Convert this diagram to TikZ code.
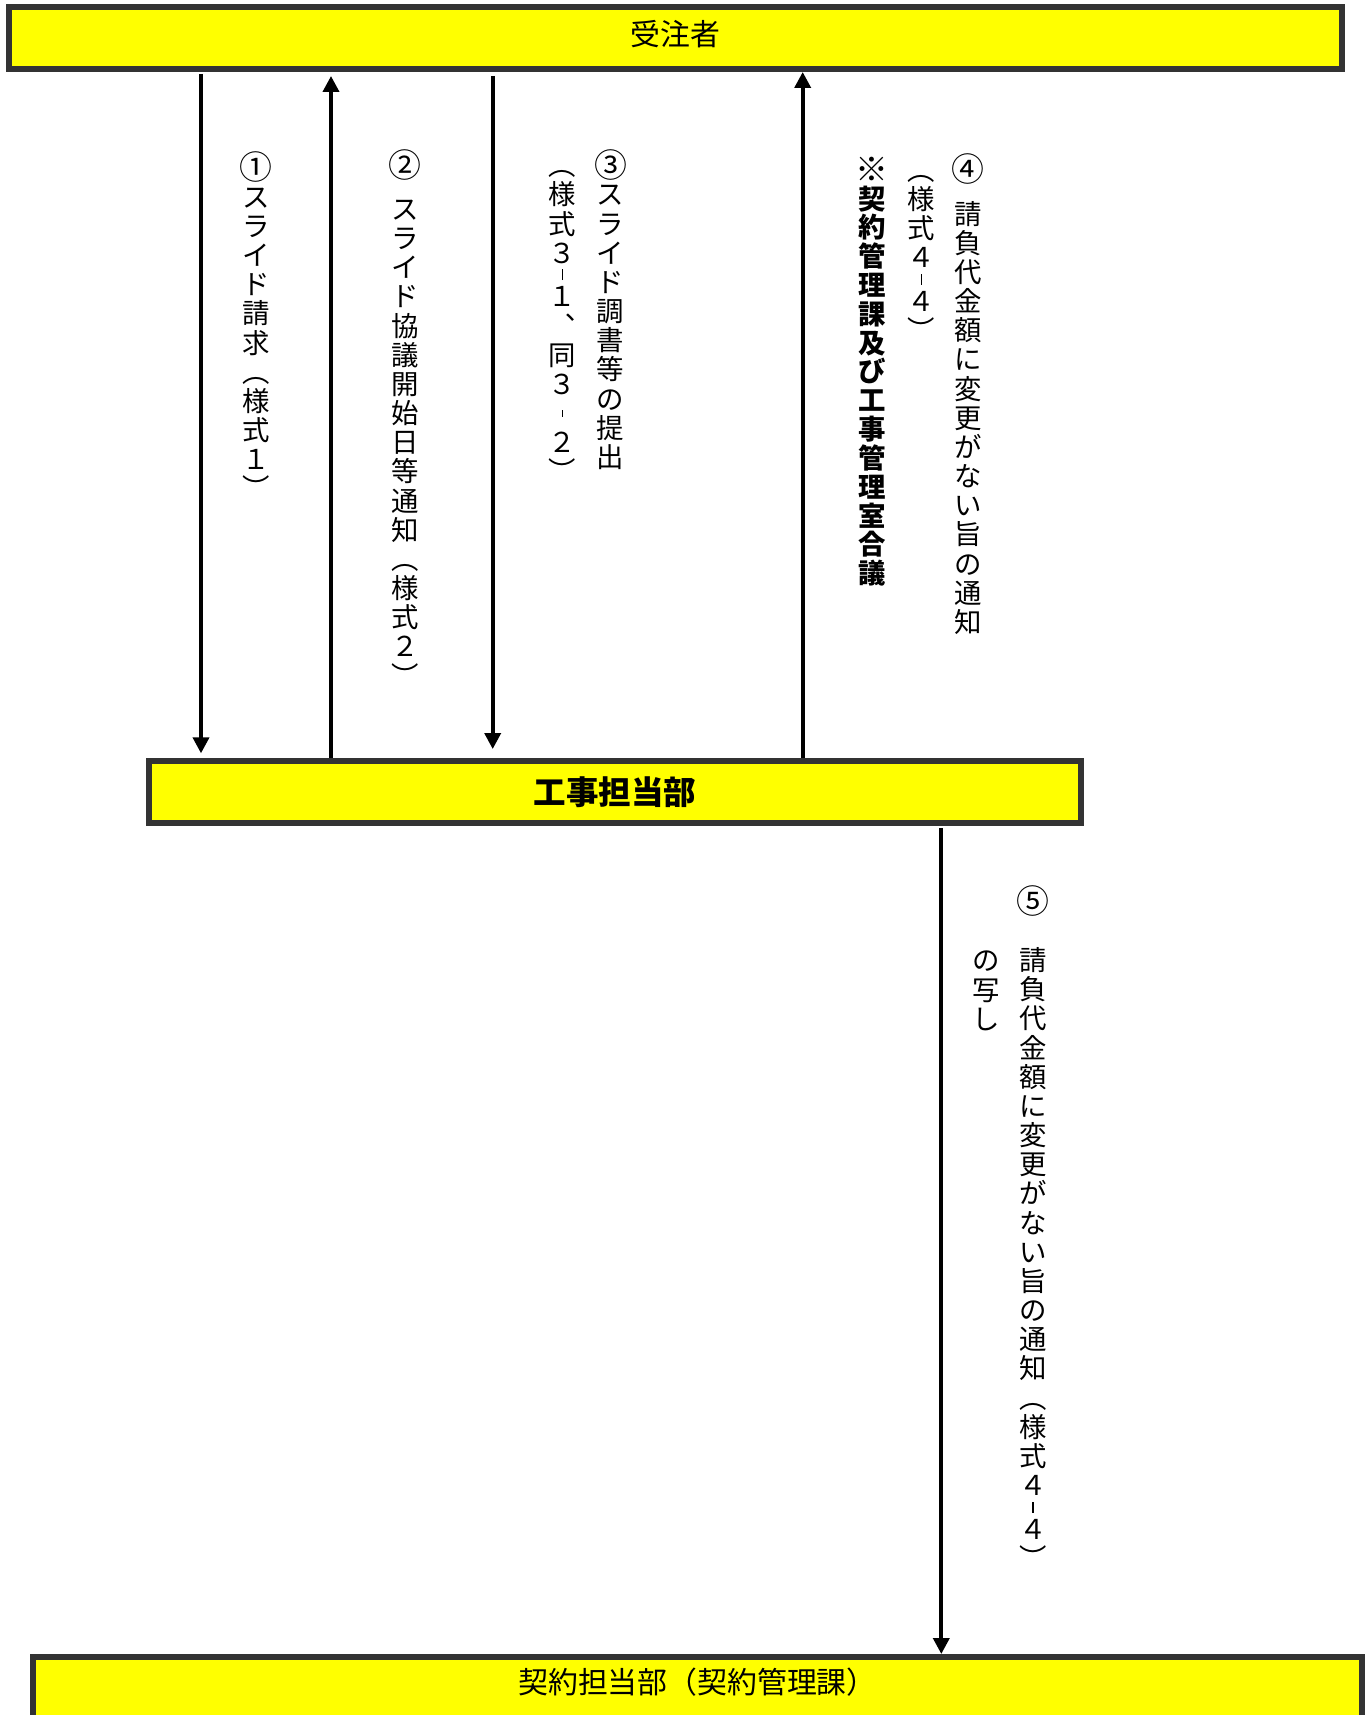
\documentclass[tikz,border=0pt]{standalone}
\usepackage{fontspec}
\setmainfont{Noto Sans CJK JP}
\usetikzlibrary{arrows.meta}
\definecolor{BoxYellow}{HTML}{FFFF00}
\definecolor{BoxEdge}{HTML}{333333}
\newcommand\tfirst{\rule{0pt}{0.88em}}
\newcommand\tdash{\rule[2.81pt]{0.8pt}{6.24pt}}
\newcommand\tdashs{\rule[3.98pt]{0.8pt}{3.9pt}}
\newcommand\tnum[1]{\smash{\raisebox{-0.8pt}{\scalebox{1.2}{#1}}}}

\begin{document}
\begin{tikzpicture}[
    x=0.02cm, y=-0.02cm,
    box/.style={rectangle, draw=BoxEdge, line width=3.4pt, fill=BoxYellow, inner sep=0pt, minimum height=1.24cm, text height=14.96pt, text depth=2.04pt, font=\fontsize{17pt}{20pt}\selectfont},
    arrow/.style={-{Triangle[length=0.32cm, width=0.32cm]}, line width=2.1pt},
    tate/.style={anchor=north, align=center, inner sep=0pt, font=\fontsize{15.6pt}{16.6pt}\selectfont}
]
\clip (0,0) rectangle (1371,1715);

% Boxes
\node[box, minimum width=26.66cm, text depth=6.6pt] (client) at (675.5,38) {受注者};
\node[box, minimum width=18.66cm, font=\fontsize{18.5pt}{20pt}\selectfont\bfseries, text height=16.3pt, text depth=2.2pt] (dept) at (615,791.7) {工事担当部};
\node[box, minimum width=26.60cm, text depth=8.8pt] (contract) at (697.5,1688) {契約担当部（契約管理課）};

% Arrow positions
\coordinate (x1) at (201,0);
\coordinate (x2) at (331,0);
\coordinate (x3) at (492.7,0);
\coordinate (x4) at (802.7,0);
\coordinate (x5) at (941.3,0);

% Arrows between client and dept
\draw[arrow, shorten <=0.04cm, shorten >=0.088cm] (client.south -| x1) -- (dept.north -| x1);
\draw[arrow, shorten >=0.08cm] (dept.north -| x2) -- (client.south -| x2);
\draw[arrow, shorten <=0.08cm, shorten >=0.174cm] (client.south -| x3) -- (dept.north -| x3);
\draw[arrow] (dept.north -| x4) -- (client.south -| x4);

% Arrow to contract section
\draw[arrow, shorten <=0.046cm] (dept.south -| x5) -- (contract.north -| x5);

% Labels
\node[tate] (l1) at (256,153.6) {\tfirst\tnum{①}\\ス\\ラ\\イ\\ド\\請\\求\\︵\\様\\式\\１\\︶};
\node[tate] (l2) at (405,151.2) {\tfirst\tnum{②}\\[8.3pt]ス\\ラ\\イ\\ド\\協\\議\\開\\始\\日\\等\\通\\知\\︵\\様\\式\\２\\︶};
\node[tate] (l3) at (610.6,151.2) {\tfirst\tnum{③}\\ス\\ラ\\イ\\ド\\調\\書\\等\\の\\提\\出};
\node[tate] (l3f) at (562.4,151.2) {\tfirst︵\\様\\式\\３\\[-4.15pt]\tdash\\[-4.15pt]１\\︑\\同\\３\\\tdashs\\２\\︶};
\node[tate, font=\fontsize{15.6pt}{16.4pt}\selectfont\bfseries] (note) at (872,155.8) {\tfirst\tnum{※}\\契\\約\\管\\理\\課\\及\\び\\工\\事\\管\\理\\室\\合\\議};
\node[tate] (l4f) at (921.3,155.8) {\tfirst︵\\様\\式\\４\\[-4.15pt]\tdash\\[-4.15pt]４\\︶};
\node[tate] (l4) at (968.4,155.8) {\tfirst\tnum{④}\\[8.3pt]請\\負\\代\\金\\額\\に\\変\\更\\が\\な\\い\\旨\\の\\通\\知};
\node[tate] (l5) at (1033,887.8) {\tfirst\tnum{⑤}\\[16.6pt]請\\負\\代\\金\\額\\に\\変\\更\\が\\な\\い\\旨\\の\\通\\知\\︵\\様\\式\\４\\[-4.15pt]\tdash\\[-4.15pt]４\\︶};
\node[tate] (l5c) at (986,946.4) {\tfirst の\\写\\し};
\end{tikzpicture}
\end{document}
